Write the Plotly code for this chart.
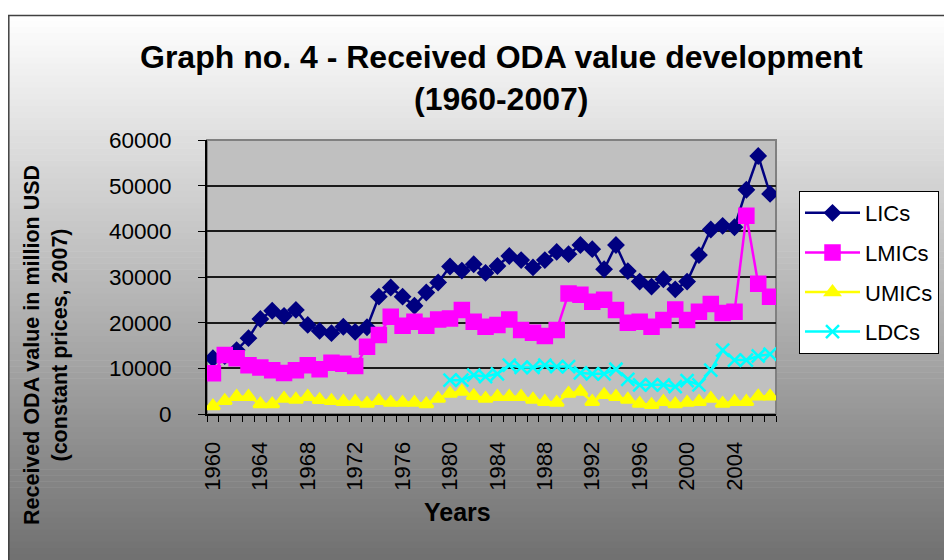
import plotly.graph_objects as go

# data (million USD, constant 2007 prices)
years = list(range(1960, 2008))

lics = [12200, 12700, 14000, 16600, 20800, 22600, 21500, 22800, 19500, 18200,
        17700, 19100, 18000, 19000, 25700, 27700, 25700, 23700, 26600, 28800,
        32300, 31400, 32800, 30900, 32400, 34600, 33700, 32100, 33700, 35500,
        35000, 37000, 36100, 31700, 37000, 31300, 29000, 27900, 29500, 27300,
        29000, 34800, 40400, 41200, 40900, 49100, 56500, 48200]

lmics = [8900, 12900, 12200, 10700, 10200, 9600, 9000, 9600, 10700, 9800,
         11200, 11000, 10500, 14700, 17300, 21300, 19300, 20200, 19300, 20700,
         20900, 22800, 20200, 19100, 19500, 20700, 18400, 17800, 17100, 18400,
         26400, 26100, 24600, 25000, 22800, 20000, 20200, 19100, 20600, 22900,
         20600, 22400, 24100, 22100, 22400, 43400, 28500, 25700]

umics = [1750, 2900, 3800, 3800, 2200, 2200, 3400, 3200, 3800, 3100,
         2900, 2700, 2700, 2300, 2900, 2500, 2500, 2500, 2200, 3400,
         4500, 4900, 4000, 3400, 3800, 3800, 3800, 3200, 2700, 2500,
         4500, 4900, 2700, 4200, 3800, 3200, 2300, 2000, 2700, 2200,
         2500, 2700, 3400, 2300, 2700, 2700, 3900, 3900]

ldcs = [None] * 20 + [7400, 7400, 8500, 8200, 8800, 10700, 10200, 10200, 10700, 10400,
                      10400, 9000, 8800, 8800, 9800, 7600, 6400, 6400, 6400, 6000,
                      7300, 6400, 9600, 14000, 11800, 11800, 12700, 13100]

label_years = list(range(1960, 2008, 4))
y_ticks = [0, 10000, 20000, 30000, 40000, 50000, 60000]

FONT = "Liberation Sans, Arial, sans-serif"

# page pixels of the target; the html body adds an 8px margin, so the figure is smaller
OFF = 8
FW, FH = 952, 560
L, R, T, B = 207, 776, 140, 414
W, H = R - L, B - T


def px(x):
    return (x - L) / W


def py(y):
    return (B - y) / H


fig = go.Figure()

series = [
    ("LICs", lics, "#000080", "diamond", 11),
    ("LMICs", lmics, "#FF00FF", "square", 14),
    ("UMICs", umics, "#FFFF00", "triangle-up", 12),
    ("LDCs", ldcs, "#00FFFF", "x-thin", 13),
]
for name, vals, col, sym, size in series:
    fig.add_trace(go.Scatter(
        x=years, y=vals, name=name, legendgroup=name, mode="lines+markers",
        line=dict(color=col, width=2.5),
        marker=dict(symbol=sym, size=size, color=col, line=dict(color=col, width=2.5)),
    ))

# gradient background made of thin bands
shapes = []
top, bottom = 15, FH
n = 90
for i in range(n):
    y0 = top + (bottom - top) * i / n
    y1 = top + (bottom - top) * (i + 1) / n + 0.5
    g = int(round(255 - (255 - 112) * (i + 0.5) / n))
    shapes.append(dict(type="rect", xref="paper", yref="paper", layer="below",
                       x0=px(8), x1=px(FW), y0=py(y0), y1=py(y1),
                       fillcolor=f"rgb({g},{g},{g})", line=dict(width=0)))
# plot area
shapes.append(dict(type="rect", xref="paper", yref="paper", layer="below",
                   x0=0, x1=1, y0=0, y1=1, fillcolor="#C0C0C0",
                   line=dict(color="#808080", width=2)))
# chart border (left and top)
shapes.append(dict(type="line", xref="paper", yref="paper", x0=px(8.8), x1=px(8.8),
                   y0=py(15), y1=py(FH), line=dict(color="#404040", width=1.5)))
shapes.append(dict(type="line", xref="paper", yref="paper", x0=px(8), x1=px(FW),
                   y0=py(15.5), y1=py(15.5), line=dict(color="#404040", width=1.5)))

annotations = [
    dict(text="<b>Graph no. 4 - Received ODA value development<br>(1960-2007)</b>",
         xref="paper", yref="paper", x=px(501), y=py(78), showarrow=False,
         xanchor="center", yanchor="middle", font=dict(size=32, color="black", family=FONT)),
    dict(text="<b>Received ODA value in million USD<br>(constant prices, 2007)</b>",
         xref="paper", yref="paper", x=px(46), y=py(345), showarrow=False, textangle=-90,
         xanchor="center", yanchor="middle", font=dict(size=21.5, color="black", family=FONT)),
    dict(text="<b>Years</b>", xref="paper", yref="paper", x=px(457), y=py(512),
         showarrow=False, xanchor="center", yanchor="middle",
         font=dict(size=25, color="black", family=FONT)),
]

fig.update_layout(
    width=FW - OFF, height=FH - OFF,
    margin=dict(l=L - OFF, r=FW - R, t=T - OFF, b=FH - B),
    paper_bgcolor="white", plot_bgcolor="#C0C0C0",
    font=dict(family=FONT, color="black", size=22),
    shapes=shapes, annotations=annotations,
    showlegend=True,
    legend=dict(x=px(799), y=py(191), xanchor="left", yanchor="top",
                bgcolor="white", bordercolor="black", borderwidth=1,
                font=dict(size=22, family=FONT), itemwidth=55,
                tracegroupgap=8, traceorder="grouped"),
    xaxis=dict(range=[1959.5, 2007.5], tickvals=label_years, ticktext=[str(y) for y in label_years],
               tickangle=-90, ticks="", showgrid=False, zeroline=False,
               showline=True, linecolor="black", linewidth=2,
               ticklabelstandoff=17, tickfont=dict(size=22),
               minor=dict(ticks="outside", ticklen=6, tickcolor="black", tickwidth=1,
                          tick0=1959.5, dtick=1, showgrid=False)),
    yaxis=dict(range=[0, 60000], tickvals=y_ticks, tickformat="d",
               ticks="outside", ticklen=7, tickcolor="black", tickwidth=1,
               showgrid=True, gridcolor="#1a1a1a", gridwidth=1.5, zeroline=False,
               showline=True, linecolor="black", linewidth=2,
               ticklabelstandoff=22, tickfont=dict(size=22.5)),
)

fig.write_html("out.html")
